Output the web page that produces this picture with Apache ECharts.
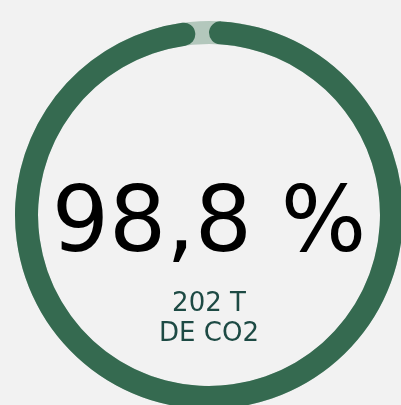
<!DOCTYPE html>
<html>
<head>
<meta charset="utf-8">
<script src="https://cdn.jsdelivr.net/npm/echarts@6/dist/echarts.min.js"></script>
<style>
  html, body { margin: 0; padding: 0; background: #f2f2f2; }
  #main { width: 401px; height: 405px; }
</style>
</head>
<body>
<div id="main"></div>
<script>
var percentValue = [98.8];
var subLines = ['202 T', 'DE CO2'];

var chart = echarts.init(document.getElementById('main'));
var cx = 209, cy = 215;

var option = {
  backgroundColor: '#f2f2f2',
  graphic: [
    {
      type: 'text',
      x: cx, y: cy + 13,
      style: {
        text: String(percentValue[0]).replace('.', ',') + ' %',
        fill: '#000',
        font: 'normal 90px "DejaVu Sans"',
        align: 'center',
        verticalAlign: 'middle'
      }
    },
    {
      type: 'text',
      x: cx, y: cy + 104,
      style: {
        text: subLines.join('\n'),
        fill: '#1d4a44',
        font: '500 26px "DejaVu Sans"',
        lineHeight: 30,
        align: 'center',
        verticalAlign: 'middle'
      }
    }
  ],
  series: [
    {
      type: 'pie',
      center: [cx, cy],
      radius: [171, 194],
      silent: true,
      label: { show: false },
      labelLine: { show: false },
      data: [{ value: 100, itemStyle: { color: '#b3c7bc' } }]
    },
    {
      type: 'pie',
      center: [cx, cy],
      radius: [171, 194],
      startAngle: 90,
      clockwise: true,
      silent: true,
      label: { show: false },
      labelLine: { show: false },
      data: [
        { value: percentValue[0], itemStyle: { color: '#356a50', borderRadius: 12 } },
        { value: 100 - percentValue[0], itemStyle: { color: 'transparent' } }
      ]
    }
  ]
};

option && chart.setOption(option);
</script>
</body>
</html>
